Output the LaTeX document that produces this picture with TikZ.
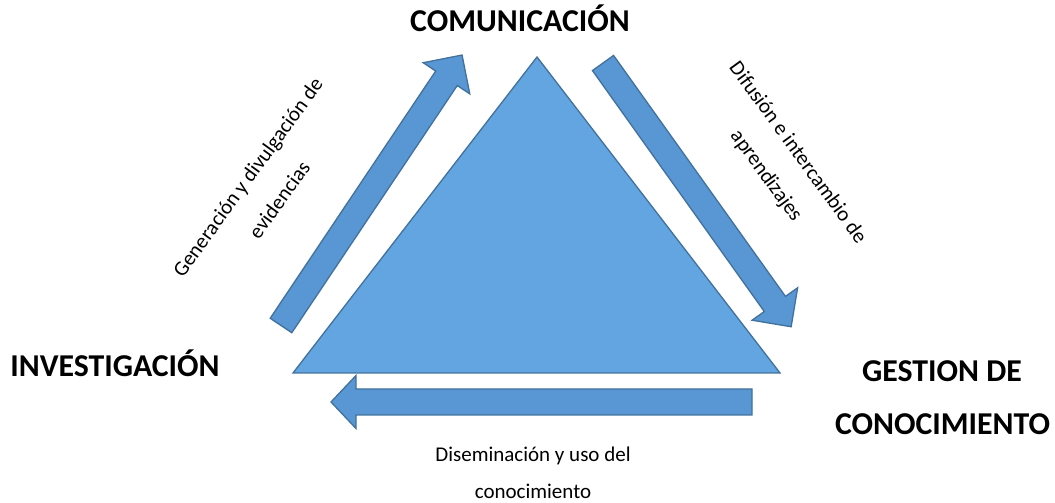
\documentclass[tikz,border=0pt]{standalone}
\usepackage{fontspec}
\setmainfont{Carlito}
\definecolor{trifill}{RGB}{99,165,224}
\definecolor{arrfill}{RGB}{88,151,211}
\definecolor{edge}{RGB}{65,113,156}
\tikzset{
  tri/.style={fill=trifill,draw=edge,line width=1.3pt,line join=miter},
  arr/.style={fill=arrfill,draw=edge,line width=1.3pt,line join=miter},
  big/.style={inner sep=0pt,font=\fontsize{31.8}{38}\selectfont\bfseries},
  small/.style={inner sep=0pt,align=center,font=\fontsize{21}{39}\selectfont},
}
% x, y, angle, length, head length, head half width
\newcommand\myblockarrow[6]{%
  \begin{scope}[shift={(#1,#2)},rotate=#3]
    \draw[arr] (0,-13) -- (#4-#5,-13) -- (#4-#5,-#6) -- (#4,0) -- (#4-#5,#6) -- (#4-#5,13) -- (0,13) -- cycle;
  \end{scope}}
\begin{document}
\begin{tikzpicture}[x=1pt,y=1pt]
\useasboundingbox (0,0) rectangle (1055,503);
% triangle
\coordinate (A) at (537,446);
\coordinate (B) at (293,130);
\coordinate (C) at (780,130);
\draw[tri] (A) -- (B) -- (C) -- cycle;
% block arrows
\myblockarrow{281}{177.5}{56.2}{325.5}{28}{28}
\myblockarrow{603}{440}{-54.5}{324}{28}{28}
\myblockarrow{752}{101}{180}{421}{25}{26.5}
% labels
\node[big,anchor=base] (com) at (520,471) {COMUNICACIÓN};
\node[big,anchor=base] (inv) at (115,126) {INVESTIGACIÓN};
\node[big,anchor=base] (ges) at (942,121) {GESTION DE};
\node[big,anchor=base] (con) at (942.5,68) {CONOCIMIENTO};
\node[small,rotate=54] (gen) at (263.4,314.5) {Generación y divulgación de\\evidencias};
\node[small,rotate=-54] (dif) at (781.7,338.4) {Difusión e intercambio de\\aprendizajes};
\node[small,anchor=base] (dis1) at (533,41.5) {Diseminación y uso del};
\node[small,anchor=base] (dis2) at (533,4) {conocimiento};
\end{tikzpicture}
\end{document}
